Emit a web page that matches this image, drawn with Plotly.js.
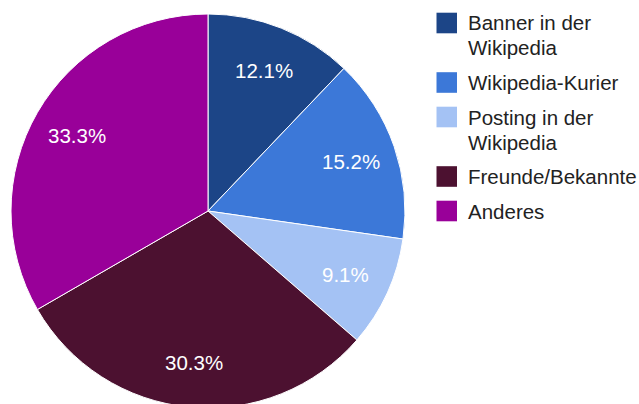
<!DOCTYPE html>
<html><head><meta charset="utf-8">
<script src="https://cdn.plot.ly/plotly-3.0.1.min.js"></script>
<style>html,body{margin:0;padding:0;background:#fff;overflow:hidden;}#chart{width:639px;height:412px;}</style>
</head><body><div id="chart"></div>
<script>
const labels = ["Banner in der<br>Wikipedia", "Wikipedia-Kurier", "Posting in der<br>Wikipedia", "Freunde/Bekannte", "Anderes"];
const counts = [4, 5, 3, 10, 11];
const colors = ["#1c4587", "#3c78d8", "#a4c2f4", "#4c1130", "#990099"];

const W = 639, H = 412;
const FONT = "Liberation Sans, Arial, sans-serif";
// pie geometry (pixels)
const cx = 208, cy = 211, R = 197;
const px = v => v / W, py = v => 1 - v / H;

// percentage labels at slice mid-angles
const total = counts.reduce((a, b) => a + b, 0);
const annotations = [];
let cum = 0;
counts.forEach((v, i) => {
  const mid = (cum + v / 2) / total * 2 * Math.PI;
  cum += v;
  const rl = 0.77 * R;
  annotations.push({
    xref: "paper", yref: "paper",
    x: px(cx + rl * Math.sin(mid)), y: py(cy - rl * Math.cos(mid)),
    xanchor: "center", yanchor: "middle",
    text: (v / total * 100).toFixed(1) + "%",
    showarrow: false,
    font: {family: FONT, size: 20.5, color: "#ffffff"}
  });
});

// legend (custom, larger swatches)
const shapes = [];
let lineIdx = 0;
labels.forEach((lab, i) => {
  const lines = lab.split("<br>");
  const y0 = 23 + 25 * lineIdx + 9.5 * i;
  shapes.push({
    type: "rect", xref: "paper", yref: "paper",
    x0: px(436.5), x1: px(457), y0: py(y0 - 10.3), y1: py(y0 + 10.3),
    fillcolor: colors[i], line: {width: 0}
  });
  lines.forEach((t, j) => {
    annotations.push({
      xref: "paper", yref: "paper",
      x: px(465.5), y: py(y0 + 25 * j),
      xanchor: "left", yanchor: "middle",
      text: t, showarrow: false,
      font: {family: FONT, size: 20.5, color: "#222222"}
    });
  });
  lineIdx += lines.length;
});

Plotly.newPlot("chart", [{
  type: "pie",
  labels: labels,
  values: counts,
  sort: false,
  direction: "clockwise",
  rotation: 0,
  marker: {colors: colors, line: {color: "#ffffff", width: 1}},
  textinfo: "none",
  hoverinfo: "none",
  showlegend: false,
  domain: {x: [px(cx - R), px(cx + R)], y: [py(cy + R), py(cy - R)]}
}], {
  width: W, height: H,
  margin: {l: 0, r: 0, t: 0, b: 0},
  paper_bgcolor: "#ffffff",
  showlegend: false,
  annotations: annotations,
  shapes: shapes
}, {staticPlot: true});
</script></body></html>
